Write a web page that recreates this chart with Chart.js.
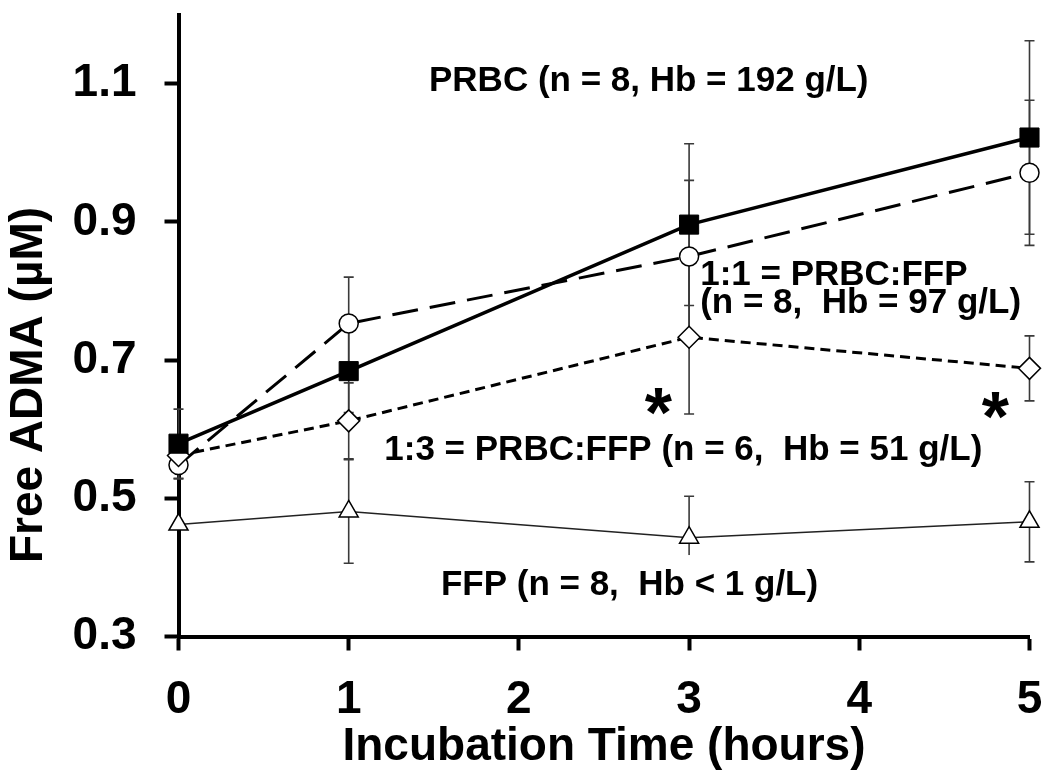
<!DOCTYPE html>
<html>
<head>
<meta charset="utf-8">
<script src="https://cdn.jsdelivr.net/npm/chart.js@4"></script>
<style>
html, body { margin: 0; padding: 0; background: #fff; }
</style>
</head>
<body>
<canvas id="chart1" width="1044" height="771"></canvas>
<script>
// values (Free ADMA, uM, mean and SD)
var hours = [0, 1, 3, 5];
var prbc = [0.579, 0.684, 0.896, 1.022];
var prbcSD = [0.05, 0.06, 0.117, 0.14];
var ratio13 = [0.562, 0.612, 0.733, 0.688];
var ratio13SD = [0, 0.055, 0.111, 0.047];
var ratio11 = [0.548, 0.753, 0.850, 0.971];
var ratio11SD = [0.02, 0.067, 0.11, 0.105];
var ffp = [0.462, 0.481, 0.443, 0.466];
var ffpSD = [0, 0.075, 0.06, 0.058];
var yTicks = [0.3, 0.5, 0.7, 0.9, 1.1];
var noteTexts = ["PRBC (n = 8, Hb = 192 g/L)", "1:1 = PRBC:FFP", "(n = 8,  Hb = 97 g/L)",
                 "1:3 = PRBC:FFP (n = 6,  Hb = 51 g/L)", "FFP (n = 8,  Hb < 1 g/L)"];

var FONT = '"Liberation Sans", Arial, Helvetica, sans-serif';

function points(vals){
    var out = [];
    for (var i = 0; i < hours.length; i++){
        out.push({x: hours[i], y: vals[i]});
    }
    return out;
}

var errorBars = {
    id: 'errorBars',
    beforeDatasetsDraw: function(chart){
        var ctx = chart.ctx;
        var xs = chart.scales.x, ys = chart.scales.y;
        ctx.save();
        ctx.strokeStyle = '#3a3a3a';
        ctx.lineWidth = 1.6;
        chart.data.datasets.forEach(function(ds){
            for (var i = 0; i < ds.data.length; i++){
                var sd = ds.sd[i];
                if (!sd) continue;
                var px = xs.getPixelForValue(ds.data[i].x);
                var top = ys.getPixelForValue(ds.data[i].y + sd);
                var bot = ys.getPixelForValue(ds.data[i].y - sd);
                ctx.beginPath();
                ctx.moveTo(px, top); ctx.lineTo(px, bot);
                ctx.moveTo(px - 5, top); ctx.lineTo(px + 5, top);
                ctx.moveTo(px - 5, bot); ctx.lineTo(px + 5, bot);
                ctx.stroke();
            }
        });
        ctx.restore();
    }
};

var notes = {
    id: 'notes',
    afterDatasetsDraw: function(chart){
        var ctx = chart.ctx;
        var xs = chart.scales.x, ys = chart.scales.y;
        ctx.save();
        ctx.fillStyle = '#000';
        ctx.font = 'bold 35px ' + FONT;
        ctx.textBaseline = 'alphabetic';

        ctx.textAlign = 'center';
        ctx.fillText(noteTexts[0], xs.getPixelForValue(2.763), ys.getPixelForValue(1.089));

        ctx.textAlign = 'left';
        ctx.fillText(noteTexts[1], xs.getPixelForValue(3.065), ys.getPixelForValue(0.809));
        ctx.fillText(noteTexts[2], xs.getPixelForValue(3.065), ys.getPixelForValue(0.768));

        ctx.textAlign = 'center';
        ctx.fillText(noteTexts[3], xs.getPixelForValue(2.966), ys.getPixelForValue(0.556));

        // FFP label sits on a white box that hides the end of an error bar
        var fx = xs.getPixelForValue(2.65), fy = ys.getPixelForValue(0.36);
        var w = ctx.measureText(noteTexts[4]).width;
        ctx.fillStyle = '#fff';
        ctx.fillRect(fx - w / 2 - 8, fy - 40, w + 16, 52);
        ctx.fillStyle = '#000';
        ctx.fillText(noteTexts[4], fx, fy);

        // significance marks
        ctx.font = 'bold 70px ' + FONT;
        ctx.fillText('*', xs.getPixelForValue(2.82), ys.getPixelForValue(0.648) + 41);
        ctx.fillText('*', xs.getPixelForValue(4.80), ys.getPixelForValue(0.642) + 41);

        // y axis title
        ctx.save();
        ctx.translate(29, 385);
        ctx.rotate(-Math.PI / 2);
        ctx.font = 'bold 46px ' + FONT;
        ctx.textBaseline = 'middle';
        ctx.fillText('Free ADMA (\u00b5M)', 0, 0);
        ctx.restore();

        ctx.restore();
    }
};

var ctx = document.getElementById('chart1').getContext('2d');
var chart1 = new Chart(ctx, {
    type: 'line',
    data: {
        datasets: [{
            label: 'PRBC',
            data: points(prbc),
            sd: prbcSD,
            borderColor: '#000',
            borderWidth: 3.5,
            pointStyle: 'rect',
            pointRadius: 13.5,
            pointBackgroundColor: '#000',
            pointBorderColor: '#000',
            pointBorderWidth: 1
        }, {
            label: '1:3 = PRBC:FFP',
            data: points(ratio13),
            sd: ratio13SD,
            borderColor: '#000',
            borderWidth: 3,
            borderDash: [10, 6],
            pointStyle: 'rectRot',
            pointRadius: 11,
            pointBackgroundColor: '#fff',
            pointBorderColor: '#000',
            pointBorderWidth: 1.5
        }, {
            label: '1:1 = PRBC:FFP',
            data: points(ratio11),
            sd: ratio11SD,
            borderColor: '#000',
            borderWidth: 3,
            borderDash: [26, 12],
            pointStyle: 'circle',
            pointRadius: 9.5,
            pointBackgroundColor: '#fff',
            pointBorderColor: '#000',
            pointBorderWidth: 1.5
        }, {
            label: 'FFP',
            data: points(ffp),
            sd: ffpSD,
            borderColor: '#222',
            borderWidth: 1.5,
            pointStyle: 'triangle',
            pointRadius: 11,
            pointBackgroundColor: '#fff',
            pointBorderColor: '#000',
            pointBorderWidth: 1.5
        }]
    },
    options: {
        responsive: false,
        animation: false,
        devicePixelRatio: 1,
        layout: { padding: { top: 12, right: 11, left: 0, bottom: 0 } },
        elements: { line: { tension: 0 } },
        datasets: { line: { clip: false } },
        plugins: { legend: { display: false }, tooltip: { enabled: false } },
        scales: {
            x: {
                type: 'linear',
                min: 0,
                max: 5,
                afterFit: function(scale){
                    scale.height = 134.5;
                    scale.paddingLeft = 0;
                    scale.paddingRight = 0;
                },
                ticks: {
                    stepSize: 1,
                    color: '#000',
                    padding: 22,
                    font: { family: FONT, size: 46, weight: 'bold' }
                },
                grid: {
                    drawOnChartArea: false,
                    drawTicks: true,
                    tickLength: 14,
                    tickWidth: 4,
                    tickColor: '#000'
                },
                border: { display: true, color: '#000', width: 4 },
                title: {
                    display: true,
                    text: 'Incubation Time (hours)',
                    color: '#000',
                    padding: { top: 0, bottom: -4 },
                    font: { family: FONT, size: 46, weight: 'bold' }
                }
            },
            y: {
                min: 0.3,
                max: 1.2,
                afterFit: function(scale){
                    scale.width = 178.5;
                    scale.paddingTop = 0;
                    scale.paddingBottom = 0;
                },
                afterBuildTicks: function(scale){
                    scale.ticks = yTicks.map(function(v){ return {value: v}; });
                },
                ticks: {
                    color: '#000',
                    padding: 28,
                    font: { family: FONT, size: 46, weight: 'bold' },
                    callback: function(v){ return v.toFixed(1); }
                },
                grid: {
                    drawOnChartArea: false,
                    drawTicks: true,
                    tickLength: 14,
                    tickWidth: 4,
                    tickColor: '#000'
                },
                border: { display: true, color: '#000', width: 4 }
            }
        }
    },
    plugins: [errorBars, notes]
});
</script>
</body>
</html>
